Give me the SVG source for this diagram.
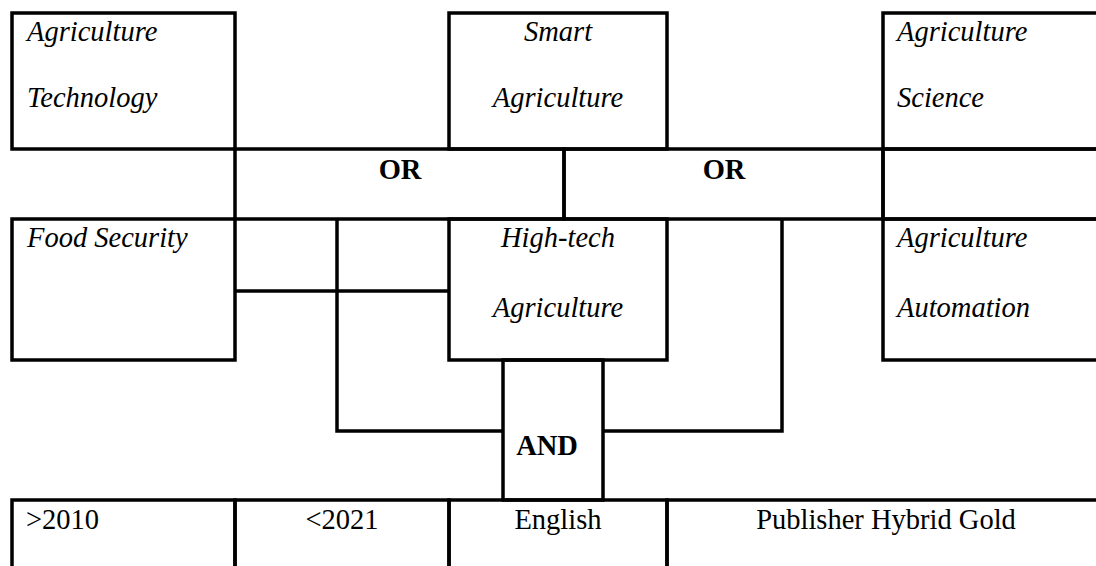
<svg xmlns="http://www.w3.org/2000/svg" width="1096" height="566" viewBox="0 0 1096 566">
<style>
.box{fill:none;stroke:#000;stroke-width:3.5}
.con{fill:none;stroke:#000;stroke-width:3.5}
text{font-family:"Liberation Serif","Times New Roman",serif;font-size:28.5px;fill:#000}
.i{font-style:italic}
.bd{font-weight:bold}
.m{text-anchor:middle}
</style>
<rect x="0" y="0" width="1096" height="566" fill="#fff"/>
<g id="connectors">
<line class="con" x1="235" y1="291" x2="449" y2="291"/>
<polyline class="con" points="337,219 337,431 503,431"/>
<polyline class="con" points="782,219 782,431 603,431"/>
</g>
<g id="n-agtech"><rect class="box" x="12" y="13" width="223" height="136"/>
<text class="i" x="27" y="41">Agriculture</text><text class="i" x="27" y="107">Technology</text></g>
<g id="n-smart"><rect class="box" x="449" y="13" width="218" height="136"/>
<text class="i m" x="558" y="41">Smart</text><text class="i m" x="558" y="107">Agriculture</text></g>
<g id="n-agsci"><rect class="box" x="883" y="13" width="230" height="136"/>
<text class="i" x="897" y="41">Agriculture</text><text class="i" x="897" y="107">Science</text></g>
<g id="n-or1"><rect class="box" x="235" y="149" width="329" height="70"/>
<text class="bd m" x="400" y="179">OR</text></g>
<g id="n-or2"><rect class="box" x="564" y="149" width="319" height="70"/>
<text class="bd m" x="724" y="179">OR</text></g>
<g id="n-band-right"><rect class="box" x="883" y="149" width="230" height="70"/></g>
<g id="n-food"><rect class="box" x="12" y="219" width="223" height="141"/>
<text class="i" x="27" y="247">Food Security</text></g>
<g id="n-hightech"><rect class="box" x="449" y="219" width="218" height="141"/>
<text class="i m" x="558" y="247">High-tech</text><text class="i m" x="558" y="317">Agriculture</text></g>
<g id="n-agauto"><rect class="box" x="883" y="219" width="230" height="141"/>
<text class="i" x="897" y="247">Agriculture</text><text class="i" x="897" y="317">Automation</text></g>
<g id="n-and"><rect class="box" x="503" y="360" width="100" height="140"/>
<text class="bd m" x="547" y="455">AND</text></g>
<g id="n-2010"><rect class="box" x="12" y="500" width="223" height="80"/>
<text x="26" y="529">&gt;2010</text></g>
<g id="n-2021"><rect class="box" x="235" y="500" width="214" height="80"/>
<text class="m" x="342" y="529">&lt;2021</text></g>
<g id="n-english"><rect class="box" x="449" y="500" width="218" height="80"/>
<text class="m" x="558" y="529">English</text></g>
<g id="n-publisher"><rect class="box" x="667" y="500" width="446" height="80"/>
<text class="m" x="886" y="529">Publisher Hybrid Gold</text></g>
</svg>
